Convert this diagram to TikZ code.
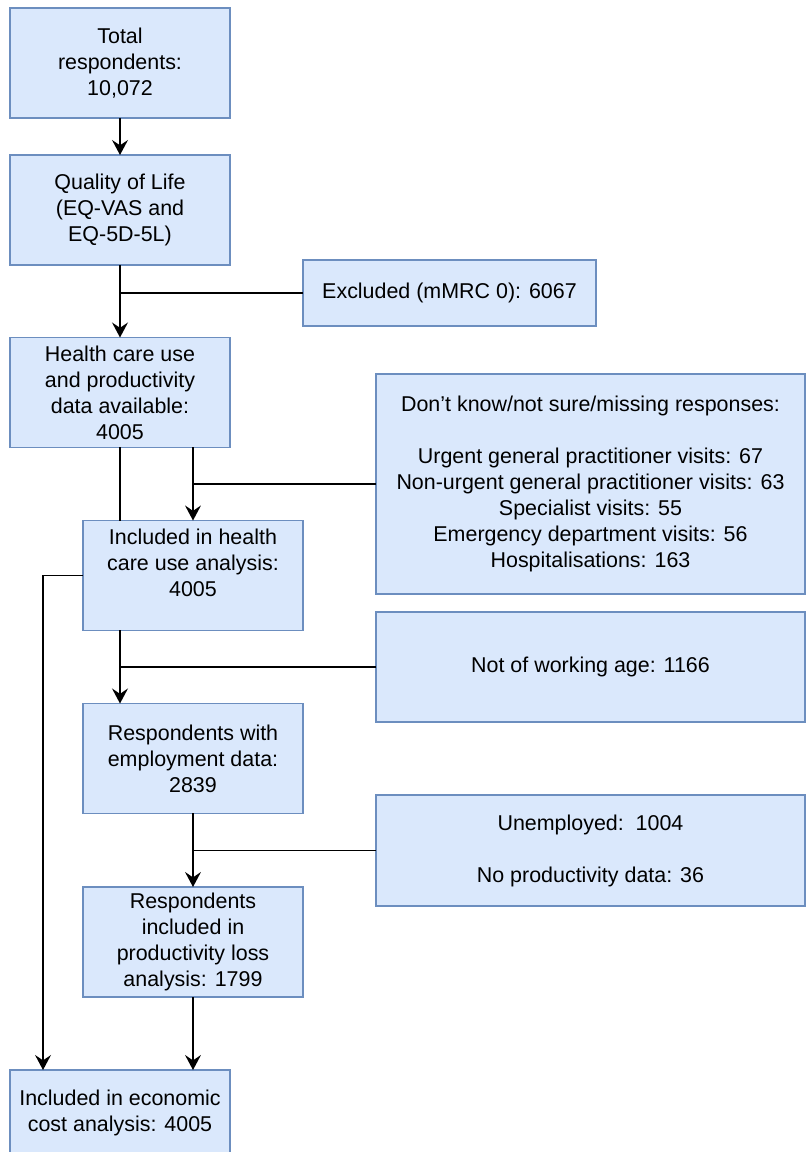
\documentclass[tikz,border=0pt]{standalone}
\usepackage{fontspec}
\setmainfont{Liberation Sans}
\usetikzlibrary{arrows.meta,positioning}
\definecolor{boxfill}{HTML}{DAE8FC}
\definecolor{boxline}{HTML}{6C8EBF}

\begin{document}
\begin{tikzpicture}[
  x=0.02cm, y=-0.02cm,
  flowbox/.style={draw=boxline, fill=boxfill, line width=0.8pt, align=center,
    inner sep=0pt, outer sep=0pt, minimum width=4.4cm, minimum height=2.2cm,
    font=\fontsize{12.2}{14.8}\selectfont},
  sidebox/.style={flowbox, minimum width=8.58cm},
  link/.style={line width=0.9pt},
  mainlink/.style={line width=1.3pt},
  >={Stealth[length=8.5pt,width=9pt,inset=3pt]}
]
\useasboundingbox (0,0) rectangle (805,1152);

\node[flowbox] (total) at (120,63) {Total\\respondents:\\10,072};
\node[flowbox] (qol) at (120,210) {Quality of Life\\(EQ-VAS and\\EQ-5D-5L)};
\node[flowbox, minimum width=5.86cm, minimum height=1.32cm] (excl) at (449.5,293) {Excluded (mMRC 0): 6067};
\node[flowbox] (hcdata) at (120,392.5) {Health care use\\and productivity\\data available:\\4005};
\node[sidebox, minimum height=4.4cm] (dontknow) at (590.5,484)
  {Don’t know/not sure/missing responses:\\[\baselineskip]
   Urgent general practitioner visits: 67\\
   Non-urgent general practitioner visits: 63\\
   Specialist visits: 55\\
   Emergency department visits: 56\\
   Hospitalisations: 163};
\node[flowbox] (hcuse) at (193,575.5) {Included in health\\care use analysis:\\4005\\\mbox{}};
\node[sidebox] (notwork) at (590.5,667) {Not of working age: 1166};
\node[flowbox] (employ) at (193,758.5) {Respondents with\\employment data:\\2839};
\node[sidebox, minimum height=2.22cm] (unemp) at (590.5,850.5) {Unemployed:\ \ 1004\\[\baselineskip]No productivity data: 36};
\node[flowbox] (prodloss) at (193,942) {Respondents\\included in\\productivity loss\\analysis: 1799};
\node[flowbox, minimum height=1.72cm] (econ) at (120,1113) {Included in economic\\cost analysis: 4005};

% main stream
\draw[mainlink,->] (total) -- (qol);
\draw[mainlink,->] (qol) -- (hcdata);
\draw[link] (excl.west) -- (excl.west -| qol.south);
\draw[mainlink] (hcdata.south) -- (hcdata.south |- hcuse.north);
\draw[link,->] (hcdata.south -| hcuse.north) -- (hcuse.north);
\draw[link] (dontknow.west) -- (dontknow.west -| hcuse.north);
\draw[mainlink,->] (hcuse.south -| hcdata.south) -- (employ.north -| hcdata.south);
\draw[link] (notwork.west) -- (notwork.west -| hcdata.south);
\draw[link,->] (employ) -- (prodloss);
\draw[link] (unemp.west) -- (unemp.west -| employ.south);
\draw[link,->] (prodloss.south) -- (prodloss.south |- econ.north);
\draw[link,->] (hcuse.west) -| ([xshift=0.66cm]econ.north west);
\end{tikzpicture}
\end{document}
